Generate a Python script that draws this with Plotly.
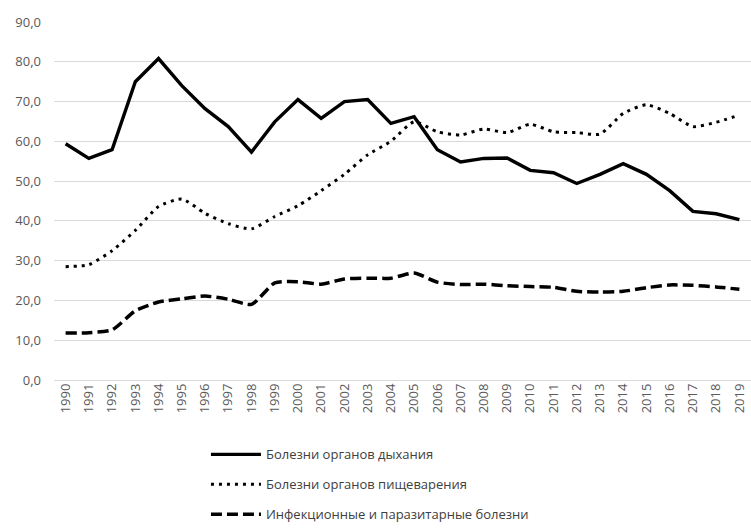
import plotly.graph_objects as go

years = list(range(1990, 2020))
resp = [59.4, 55.7, 57.9, 75.0, 80.8, 74.0, 68.2, 63.7, 57.3, 64.9,
        70.5, 65.8, 70.0, 70.5, 64.5, 66.2, 57.9, 54.8, 55.7, 55.8,
        52.7, 52.1, 49.4, 51.7, 54.4, 51.7, 47.6, 42.4, 41.8, 40.3]
dig = [28.5, 29.0, 32.5, 37.6, 43.6, 45.5, 41.9, 39.3, 38.0, 41.1,
       43.8, 47.6, 51.7, 56.6, 60.0, 64.9, 62.4, 61.6, 63.1, 62.2,
       64.3, 62.4, 62.2, 61.8, 67.0, 69.2, 67.0, 63.7, 64.8, 66.6]
inf = [11.8, 11.9, 12.6, 17.4, 19.6, 20.4, 21.1, 20.3, 19.0, 24.4,
       24.7, 24.1, 25.4, 25.6, 25.6, 26.9, 24.6, 24.0, 24.1, 23.7,
       23.5, 23.3, 22.3, 22.1, 22.3, 23.2, 23.9, 23.8, 23.4, 22.8]
names = ["Болезни органов дыхания", "Болезни органов пищеварения",
         "Инфекционные и паразитарные болезни"]

fig = go.Figure()
fig.add_trace(go.Scatter(x=years, y=resp, name=names[0], mode="lines",
                         legendgroup="a",
                         line=dict(color="black", width=3.4)))
fig.add_trace(go.Scatter(x=years, y=dig, name=names[1], mode="lines",
                         legendgroup="b",
                         line=dict(color="black", width=3, dash="3px,5px",
                                   shape="spline", smoothing=0.6)))
fig.add_trace(go.Scatter(x=years, y=inf, name=names[2], mode="lines",
                         legendgroup="c",
                         line=dict(color="black", width=3.5, dash="11px,5px",
                                   shape="spline", smoothing=0.6)))

fig.update_layout(
    width=751, height=530,
    margin=dict(l=54, r=0, t=22, b=145),
    paper_bgcolor="white", plot_bgcolor="white",
    separators=", ",
    font=dict(family="Open Sans, Noto Sans, sans-serif", color="#595959", size=13),
    showlegend=True,
    legend=dict(x=0.218, y=-0.166, xanchor="left", yanchor="top",
                orientation="v", tracegroupgap=10, itemwidth=50,
                font=dict(size=13, color="#404040"),
                bgcolor="rgba(0,0,0,0)"),
)
fig.update_xaxes(range=[1989.5, 2019.5], tickmode="array", tickvals=years,
                 ticktext=[str(y) for y in years], tickangle=-90,
                 showgrid=False, showline=False, zeroline=False,
                 tickfont=dict(size=13, color="#595959"))
fig.update_yaxes(range=[0, 90], dtick=10, tickformat=".1f",
                 showgrid=True, gridcolor="#d9d9d9", gridwidth=1,
                 zeroline=True, zerolinecolor="#d9d9d9", zerolinewidth=1,
                 showline=False, ticklabelstandoff=12,
                 tickfont=dict(size=13, color="#595959"))

fig.write_html("out.html")
